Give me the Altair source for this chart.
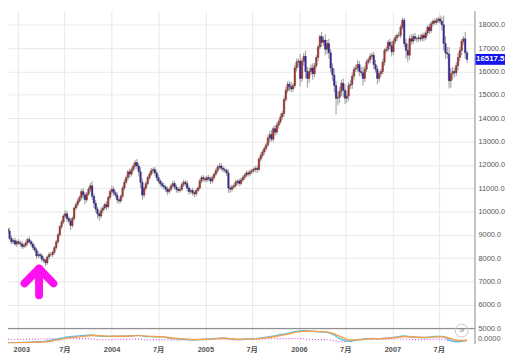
import altair as alt
import pandas as pd

# ---------------- data ----------------
week_start = "2002-11-15"
first_open = 9100
closes = [
    9250, 9150, 8850, 8700, 8750, 8600, 8700, 8650, 8600, 8500,
    8550, 8650, 8800, 8700, 8600, 8450, 8350, 8100, 8150, 8100,
    7950, 7900, 7800, 8050, 8150, 8150, 8250, 8450, 8700, 9000,
    9350, 9550, 9800, 9900, 9700, 9600, 9400, 9700, 10150, 10300,
    10450, 10600, 10850, 10700, 10500, 10750, 10950, 11100, 10650, 10350,
    10100, 9900, 9800, 10050, 10150, 10300, 10200, 10600, 10850, 10950,
    10800, 10700, 10500, 10450, 10650, 11000, 11250, 11450, 11700, 11600,
    11800, 11950, 12100, 11950, 11700, 11250, 10700, 11000, 11200, 11450,
    11600, 11750, 11800, 11650, 11450, 11300, 11200, 11100, 11050, 10950,
    10850, 10950, 11100, 11200, 11050, 10950, 10900, 10950, 11150, 11250,
    11200, 11000, 10850, 10900, 10800, 10750, 10900, 11000, 11300, 11450,
    11400, 11350, 11450, 11400, 11300, 11450, 11600, 11750, 11900, 11950,
    11850, 11800, 11750, 11650, 11000, 10950, 11050, 11100, 11250, 11300,
    11200, 11350, 11450, 11550, 11650, 11600, 11700, 11750, 11800, 11850,
    11800, 12250, 12400, 12550, 12700, 12850, 13150, 13300, 13100, 13550,
    13400, 13700, 13850, 14050, 14200, 14800, 15200, 15450, 15350, 15250,
    15400, 16150, 16400, 16450, 15700, 16450, 16650, 16000, 15700, 16000,
    16150, 15900, 16250, 16600, 17050, 17500, 17250, 17350, 16950, 17200,
    16800, 16150, 15850, 15400, 14850, 14900, 15150, 15500, 15200, 14850,
    14950, 15400, 15450, 15800, 16100, 16150, 16300, 16000, 15950, 15700,
    16100, 16400, 16500, 16650, 16700, 16300, 16100, 15700, 15900, 16000,
    16400, 16900, 16950, 17250, 17100, 16850, 17300, 17450, 17550, 17550,
    17900, 18200, 17200, 16900, 16700, 17400, 17300, 17500, 17400, 17400,
    17450, 17400, 17550, 17450, 17650, 17900, 17750, 18050, 18150, 18100,
    18200, 18250, 18150, 18000, 17200, 16800, 16750, 15600, 15900, 16000,
    15950, 16250, 16600, 16900, 17300, 17400, 16800, 16517.5,
]
wick_up = [
    120, 80, 150, 100, 90, 120, 80, 110, 90, 130,
    100, 90, 60, 120, 80, 100, 120, 90, 140, 80,
    100, 120, 90, 60, 110, 100, 80, 60, 70, 90,
    60, 100, 80, 150, 120, 90, 130, 80, 60, 100,
    120, 90, 110, 150, 130, 80, 100, 120, 200, 120,
    150, 100, 90, 120, 100, 80, 140, 70, 100, 150,
    120, 100, 130, 90, 80, 100, 120, 90, 80, 150,
    100, 120, 100, 150, 120, 200, 150, 100, 90, 80,
    100, 120, 90, 110, 100, 130, 90, 100, 120, 80,
    110, 100, 90, 120, 110, 100, 90, 120, 100, 110,
    90, 120, 100, 90, 110, 100, 90, 80, 100, 90,
    110, 100, 90, 120, 100, 90, 80, 100, 90, 120,
    110, 100, 90, 80, 150, 120, 100, 90, 100, 80,
    110, 100, 90, 80, 100, 90, 100, 80, 90, 100,
    110, 80, 120, 100, 90, 100, 110, 150, 200, 100,
    150, 120, 100, 150, 100, 120, 150, 120, 150, 200,
    100, 120, 150, 100, 300, 120, 150, 250, 200, 150,
    150, 200, 120, 100, 100, 80, 200, 150, 250, 150,
    200, 150, 200, 250, 200, 250, 200, 150, 200, 250,
    200, 150, 200, 150, 120, 150, 200, 150, 200, 250,
    150, 120, 100, 120, 100, 150, 200, 150, 100, 120,
    150, 100, 120, 100, 150, 200, 100, 120, 80, 150,
    100, 100, 100, 200, 300, 150, 200, 120, 150, 100,
    120, 150, 100, 120, 100, 80, 150, 100, 80, 120,
    100, 80, 150, 200, 400, 300, 250, 300, 250, 200,
    150, 150, 200, 150, 100, 120, 300, 100,
]
wick_dn = [
    100, 120, 90, 110, 100, 80, 120, 90, 100, 110,
    90, 100, 120, 80, 100, 110, 90, 130, 100, 120,
    110, 100, 150, 90, 100, 80, 110, 90, 80, 100,
    90, 110, 80, 100, 150, 120, 200, 100, 80, 90,
    100, 80, 120, 150, 200, 100, 90, 120, 150, 200,
    150, 200, 200, 100, 120, 90, 150, 80, 100, 120,
    130, 110, 150, 120, 90, 80, 100, 90, 110, 150,
    100, 90, 120, 150, 200, 250, 200, 120, 100, 90,
    100, 80, 110, 120, 150, 100, 120, 90, 110, 130,
    150, 100, 90, 110, 120, 150, 100, 90, 80, 100,
    120, 150, 130, 100, 120, 150, 100, 90, 80, 100,
    120, 110, 90, 100, 120, 100, 90, 80, 100, 90,
    110, 120, 100, 130, 200, 150, 100, 90, 80, 100,
    120, 90, 80, 100, 90, 110, 80, 100, 90, 120,
    150, 80, 100, 90, 120, 100, 80, 200, 100, 120,
    150, 100, 150, 100, 120, 150, 100, 120, 200, 150,
    120, 100, 150, 200, 350, 150, 200, 300, 400, 200,
    150, 250, 150, 120, 150, 100, 200, 150, 250, 200,
    250, 200, 250, 300, 700, 300, 250, 200, 300, 250,
    200, 200, 150, 200, 150, 120, 150, 200, 150, 300,
    150, 120, 100, 150, 120, 200, 150, 250, 150, 150,
    120, 150, 100, 120, 150, 200, 150, 120, 150, 100,
    120, 100, 150, 350, 300, 200, 150, 120, 100, 150,
    120, 100, 120, 150, 100, 120, 150, 100, 120, 100,
    100, 120, 100, 250, 300, 250, 200, 330, 300, 250,
    200, 150, 200, 150, 200, 150, 250, 150,
]

macd_dates = [
    "2002-11-12", "2003-01-15", "2003-03-01", "2003-04-15", "2003-05-15", "2003-06-15",
    "2003-07-15", "2003-08-15", "2003-09-15", "2003-10-15", "2003-11-15", "2003-12-15",
    "2004-01-15", "2004-02-15", "2004-03-15", "2004-04-15", "2004-05-15", "2004-06-15",
    "2004-07-15", "2004-08-15", "2004-09-15", "2004-10-15", "2004-11-15", "2004-12-15",
    "2005-01-15", "2005-02-15", "2005-03-15", "2005-04-15", "2005-05-15", "2005-06-15",
    "2005-07-15", "2005-08-15", "2005-09-15", "2005-10-15", "2005-11-15", "2005-12-15",
    "2006-01-15", "2006-02-15", "2006-03-15", "2006-04-15", "2006-05-15", "2006-06-15",
    "2006-07-15", "2006-08-15", "2006-09-15", "2006-10-15", "2006-11-15", "2006-12-15",
    "2007-01-15", "2007-02-15", "2007-03-15", "2007-04-15", "2007-05-15", "2007-06-15",
    "2007-07-15", "2007-08-15", "2007-09-15", "2007-10-19",
]
macd_vals = [
    -330, -300, -250, -200, -50, 100, 250, 330, 420, 450, 350, 310,
    330, 330, 370, 420, 300, 280, 260, 120, 50, 0, -50, 0,
    50, 100, 150, 30, -20, 50, 80, 180, 300, 450, 600, 800,
    900, 850, 800, 750, 500, 0, -200, -50, 50, 100, 80, 150,
    250, 350, 250, 200, 200, 300, 300, -100, -250, -100,
]
signal_vals = [
    -350, -320, -290, -250, -150, 0, 150, 250, 330, 400, 380, 340,
    330, 330, 350, 390, 340, 300, 280, 180, 100, 40, 0, 0,
    30, 80, 120, 70, 20, 30, 60, 130, 230, 370, 520, 700,
    820, 840, 810, 770, 600, 250, -50, -50, 20, 70, 80, 120,
    200, 300, 270, 220, 200, 260, 290, 100, -100, -100,
]
hist_vals = [
    30, 20, 40, 50, 100, 100, 100, 80, 90, 50, -30, -30,
    0, 0, 20, 30, -40, -20, -20, -60, -50, -40, -50, 0,
    20, 20, 30, -40, -40, 20, 20, 50, 70, 80, 80, 100,
    80, 10, -10, -20, -100, -250, -150, 0, 30, 30, 0, 30,
    50, 50, -20, -20, 0, 40, 10, -150, -150, 0,
]

last_price = 16517.5
price_ticks = list(range(5000, 19000, 1000))

# annotation arrow (date, price) points
arrow_dates = ["2003-01-26", "2003-03-24", "2003-05-19", "2003-03-24", "2003-03-24"]
arrow_prices = [6916, 7549, 6916, 7549, 6409]
arrow_parts = ["head", "head", "head", "shaft", "shaft"]

assert len(closes) == len(wick_up) == len(wick_dn)
assert len(macd_dates) == len(macd_vals) == len(signal_vals) == len(hist_vals)

# ---------------- tables ----------------
dates = pd.date_range(week_start, periods=len(closes), freq="7D")
opens = [first_open] + closes[:-1]
candles = pd.DataFrame({
    "date": dates,
    "open": opens,
    "close": closes,
    "high": [max(o, c) + u for o, c, u in zip(opens, closes, wick_up)],
    "low": [min(o, c) - d for o, c, d in zip(opens, closes, wick_dn)],
    "dir": ["up" if c >= o else "down" for o, c in zip(opens, closes)],
})
macd = pd.DataFrame({
    "date": pd.to_datetime(macd_dates),
    "macd": macd_vals,
    "signal": signal_vals,
    "hist": hist_vals,
})
arrow = pd.DataFrame({
    "date": pd.to_datetime(arrow_dates),
    "price": arrow_prices,
    "part": arrow_parts,
    "ord": list(range(len(arrow_dates))),
})
one = pd.DataFrame({"k": [0]})

FONT = "Liberation Sans, 'Noto Sans CJK JP', sans-serif"
W, H = 474, 338

x_scale = alt.Scale(domain=[alt.DateTime(year=2002, month=12, date=12),
                            alt.DateTime(year=2007, month=10, date=29)])
price_scale = alt.Scale(domain=[4343, 18603], nice=False, zero=False)
macd_scale = alt.Scale(domain=[-400, 33400], nice=False, zero=False)

first_lbl = "year(datum.value) == 2003 && month(datum.value) == 0"
x_axis = alt.Axis(
    values=[alt.DateTime(year=y, month=m, date=1) for y in range(2003, 2008) for m in (1, 7)],
    labelExpr="month(datum.value) == 0 ? timeFormat(datum.value, '%Y') : '7月'",
    grid=True, gridColor="#e9e9e9", domain=False, ticks=False, tickSize=0,
    labelFontSize=7.5, labelFontWeight="bold", labelColor="#555", labelFont=FONT,
    labelPadding=2, title=None, labelOverlap=False,
    labelAlign={"condition": {"test": first_lbl, "value": "left"}, "value": "center"},
    labelOffset={"condition": {"test": first_lbl, "value": -5}, "value": 0},
)
y_axis = alt.Axis(
    orient="right", values=price_ticks, format=".1f", grid=True, gridColor="#e9e9e9",
    domainColor="#888", ticks=False, tickSize=0, labelPadding=3.5, labelOverlap=False,
    labelFontSize=7.5, labelColor="#555", labelFont=FONT, title=None,
)

X = alt.X("date:T", scale=x_scale, axis=x_axis)

wicks = alt.Chart(candles).mark_rule(color="#9a9a9a", strokeWidth=1, clip=True).encode(
    x=X,
    y=alt.Y("low:Q", scale=price_scale, axis=y_axis),
    y2="high:Q",
)
bodies = alt.Chart(candles).mark_bar(size=1.6, stroke="#222", strokeWidth=0.35, clip=True).encode(
    x=X,
    y=alt.Y("open:Q", scale=price_scale, axis=y_axis),
    y2="close:Q",
    color=alt.Color("dir:N", scale=alt.Scale(domain=["up", "down"], range=["#c8322a", "#3a22c8"]),
                    legend=None),
)
separator = alt.Chart(one).mark_rule(color="#7a7a7a", strokeWidth=1).encode(
    y=alt.YDatum(4975, scale=price_scale, axis=y_axis)
)
arrow_mark = alt.Chart(arrow).mark_line(
    color="#ff10f0", strokeWidth=8, strokeCap="round", strokeJoin="round"
).encode(
    x=X,
    y=alt.Y("price:Q", scale=price_scale, axis=y_axis),
    detail="part:N",
    order="ord:Q",
)
box = alt.Chart(one).mark_rect(color="#1414ee", opacity=1).encode(
    x=alt.value(475), x2=alt.value(505),
    y=alt.YDatum(last_price + 232, scale=price_scale, axis=y_axis),
    y2=alt.Y2Datum(last_price - 232),
)
box_text = alt.Chart(one).mark_text(
    text=f"{last_price:.1f}", color="white", fontWeight="bold", fontSize=8, font=FONT,
    align="center", baseline="middle",
).encode(x=alt.value(490), y=alt.YDatum(last_price, scale=price_scale, axis=y_axis))

price_layer = alt.layer(wicks, bodies, separator, arrow_mark, box, box_text)

macd_line = alt.Chart(macd).mark_line(color="#4fc1e9", strokeWidth=1.4, interpolate="monotone", clip=True).encode(
    x=X, y=alt.Y("macd:Q", scale=macd_scale, axis=None)
)
signal_line = alt.Chart(macd).mark_line(color="#f5a04a", strokeWidth=1.4, interpolate="monotone", clip=True).encode(
    x=X, y=alt.Y("signal:Q", scale=macd_scale, axis=None)
)
hist_line = alt.Chart(macd).mark_line(color="#e24ad6", strokeWidth=1.2, strokeDash=[1, 2],
                                      interpolate="monotone", clip=True).encode(
    x=X, y=alt.Y("hist:Q", scale=macd_scale, axis=None)
)
zero_text = alt.Chart(one).mark_text(
    text="0.0000", fontSize=7.5, color="#555", font=FONT, align="left", baseline="middle"
).encode(x=alt.value(477.5), y=alt.YDatum(0, scale=macd_scale, axis=None))
btn = alt.Chart(one).mark_point(shape="circle", size=170, filled=False, color="#c8c8c8",
                                strokeWidth=1, opacity=1).encode(x=alt.value(461), y=alt.value(325))
btn_text = alt.Chart(one).mark_text(text="»", fontSize=10, color="#888", font=FONT,
                                    align="center", baseline="middle").encode(
    x=alt.value(461), y=alt.value(324.5))

macd_layer = alt.layer(hist_line, macd_line, signal_line, zero_text, btn, btn_text)

chart = alt.layer(price_layer, macd_layer).resolve_scale(y="independent").properties(
    width=W, height=H,
    autosize=alt.AutoSizeParams(type="none"),
    padding={"left": 0, "top": 0, "right": 31, "bottom": 10},
    background="white",
).configure_view(stroke=None).configure_axis(labelOverlap=False)

chart.save("out.html", embed_options={"renderer": "svg", "actions": False})
